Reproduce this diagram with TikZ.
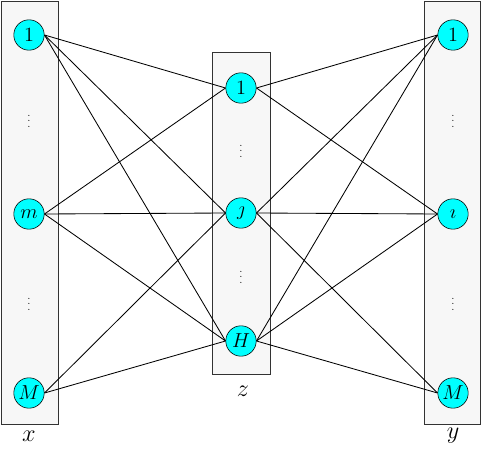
\documentclass[tikz,border=0pt]{standalone}
\definecolor{ciano}{RGB}{0,255,255}
\begin{document}
\begin{tikzpicture}[
    neurone/.style={circle,draw,fill=ciano,minimum size=0.76cm,inner sep=0pt,font=\Large},
    strato/.style={draw=black!80,fill=black!3,line width=0.7pt},
    puntini/.style={font=\scriptsize},
    arco/.style={semithick}
  ]

    \useasboundingbox (0,0) rectangle (12.05,11.2);

    % Strati
    \draw[strato] (0.025,0.6) rectangle (1.45,11.175);   % ingresso
    \draw[strato] (5.3,1.85) rectangle (6.75,9.9);       % nascosto
    \draw[strato] (10.6,0.6) rectangle (12.0,11.175);    % uscita

    % Nodi di ingresso
    \node[neurone] (x1) at (0.725,10.325) {$1$};
    \node[neurone] (xm) at (0.725,5.85) {$m$};
    \node[neurone] (xM) at (0.725,1.375) {$M$};
    \node[puntini] at (0.725,8.275) {$\vdots$};
    \node[puntini] at (0.725,3.7) {$\vdots$};

    % Nodi nascosti
    \node[neurone] (z1) at (6.025,9.0) {$1$};
    \node[neurone] (zj) at (6.025,5.875) {$\jmath$};
    \node[neurone] (zH) at (6.025,2.675) {$H$};
    \node[puntini] at (6.025,7.525) {$\vdots$};
    \node[puntini] at (6.025,4.375) {$\vdots$};

    % Nodi di uscita
    \node[neurone] (y1) at (11.325,10.325) {$1$};
    \node[neurone] (yi) at (11.325,5.85) {$\imath$};
    \node[neurone] (yM) at (11.325,1.375) {$M$};
    \node[puntini] at (11.325,8.275) {$\vdots$};
    \node[puntini] at (11.325,3.7) {$\vdots$};

    % Collegamenti
    \foreach \a in {x1,xm}
      \foreach \b in {z1,zj,zH}
        \draw[arco] (\a.east) -- (\b.west);
    \foreach \b in {zj,zH}
      \draw[arco] (xM.east) -- (\b.west);
    \foreach \a in {z1,zj,zH}
      \foreach \b in {y1,yi}
        \draw[arco] (\a.east) -- (\b.west);
    \foreach \a in {zj,zH}
      \draw[arco] (\a.east) -- (yM.west);

    % Etichette
    \node[font=\LARGE] (lx) at (0.725,0.3) {$x$};
    \node[font=\LARGE] (lz) at (6.075,1.42) {$z$};
    \node[font=\LARGE] (ly) at (11.325,0.3) {$y$};

\end{tikzpicture}
\end{document}
